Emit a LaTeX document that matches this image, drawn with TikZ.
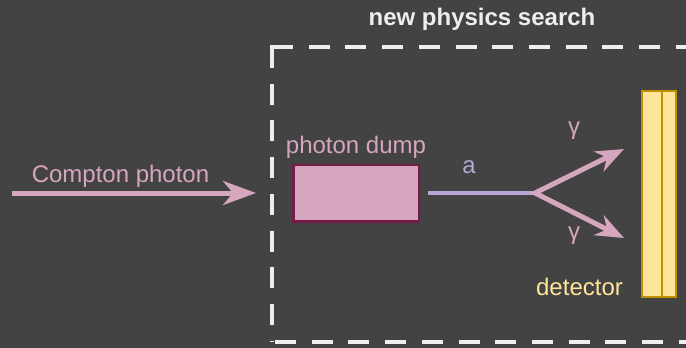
\documentclass[tikz,border=0pt]{standalone}
\usepackage{fontspec}
\setmainfont{Liberation Sans}
\usetikzlibrary{arrows.meta, positioning}
\definecolor{bgdark}{HTML}{434343}
\definecolor{framewhite}{HTML}{EEEEEE}
\definecolor{photonpink}{HTML}{D5A6BD}
\definecolor{dumpedge}{HTML}{741B47}
\definecolor{axionlilac}{HTML}{B4A7D6}
\definecolor{detfill}{HTML}{FFE599}
\definecolor{detedge}{HTML}{BF9000}

\begin{document}
\begin{tikzpicture}[
    x=1pt, y=-1pt,
    txt/.style={font=\fontsize{24}{28}\selectfont, inner sep=0pt, anchor=base},
    frame/.style={draw=framewhite, line width=4.5pt, dash pattern=on 21pt off 15.7pt},
    beam/.style={draw=photonpink, line width=5pt, -{Stealth[length=33pt, width=24pt, inset=10pt]}},
    gtip/.tip={Stealth[length=28pt, width=22pt, inset=9pt]},
    dumpbox/.style={draw=dumpedge, fill=photonpink, line width=2.5pt, minimum width=125.5pt, minimum height=56.5pt},
    detbox/.style={draw=detedge, fill=detfill, line width=2pt, minimum height=206pt}
]
    \fill[bgdark] (0,0) rectangle (686,348);
    \useasboundingbox (0,0) rectangle (686,348);
    \clip (0,0) rectangle (686,348);

    % search region
    \node[txt, text=framewhite, font=\fontsize{24}{28}\selectfont\bfseries] (title) at (482,25) {new physics search};
    \draw[frame] (272,47) -- (272,342);
    \draw[frame] (272,47) -- (700,47);
    \draw[frame] (275,342) -- (700,342);
    \fill[framewhite] (269.75,44.75) rectangle (274.25,49.25);

    % incoming photon
    \coordinate (src) at (12,193);
    \coordinate (entry) at (256,193);
    \draw[beam] (src) -- (entry);
    \node[txt, text=photonpink] (clbl) at (120.5,182) {Compton photon};

    % dump and axion
    \node[dumpbox] (dump) at (356,193) {};
    \node[txt, text=photonpink] (dlbl) at (356,153) {photon dump};
    \coordinate (vtx) at (535,193);
    \draw[axionlilac, line width=4.5pt] ([xshift=8pt]dump.east) -- (vtx);
    \node[txt, text=axionlilac] (albl) at (469,173) {a};

    % decay photons
    \coordinate (gup) at (624,149);
    \coordinate (gdn) at (624,238);
    \draw[photonpink, line width=5pt, miter limit=20, {gtip}-{gtip}] (gup) -- (vtx) -- (gdn);
    \node[txt, text=photonpink] (g1) at (574,134.5) {γ};
    \node[txt, text=photonpink] (g2) at (574,239.5) {γ};

    % detector
    \node[detbox, minimum width=20pt] (detL) at (652,194) {};
    \node[detbox, minimum width=14pt] (detR) at (669,194) {};
    \node[txt, text=detfill] (detlbl) at (579.5,295) {detector};
\end{tikzpicture}
\end{document}
